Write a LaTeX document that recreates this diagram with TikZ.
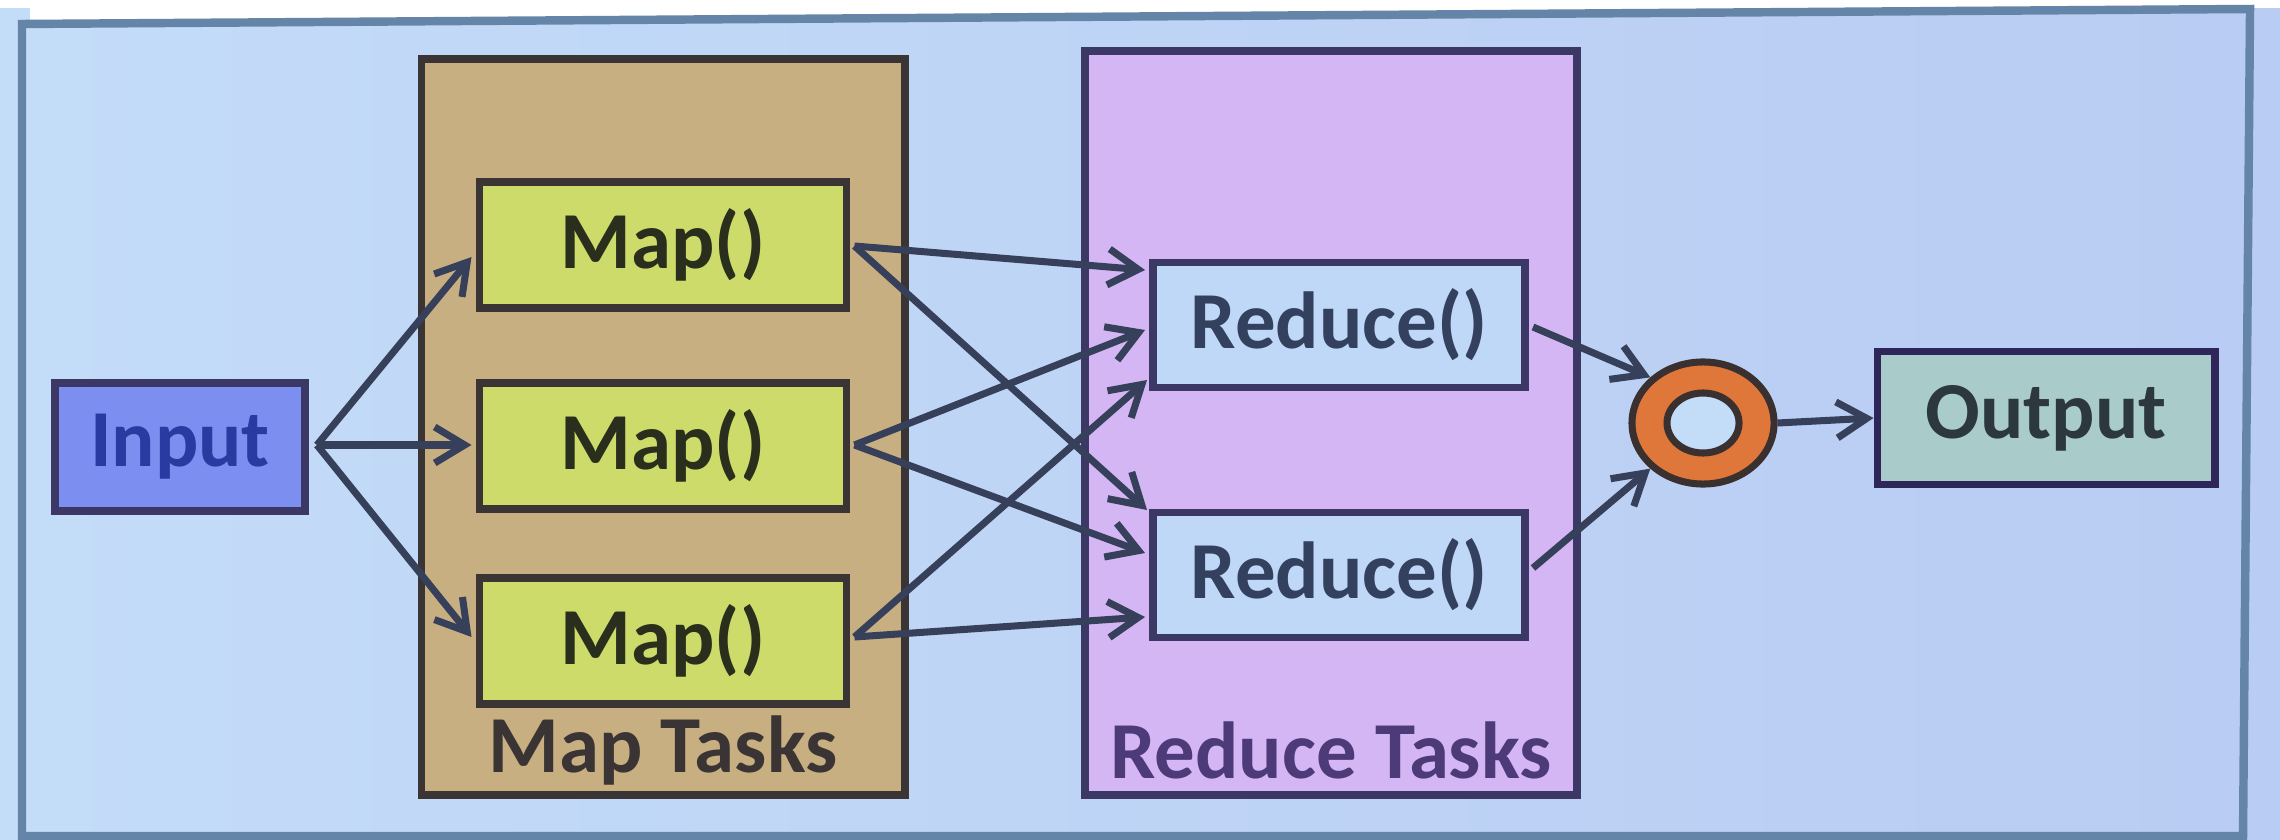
\documentclass[tikz,border=0pt]{standalone}
\usepackage{fontspec}
\setmainfont{Carlito}
\usetikzlibrary{arrows.meta,calc,shapes.geometric}
\definecolor{bgL}{HTML}{C3DCF8}
\definecolor{bgR}{HTML}{B9CCF3}
\definecolor{frameC}{HTML}{6585A8}
\definecolor{arrC}{HTML}{37405A}
\definecolor{inFill}{HTML}{7C8FF1}
\definecolor{inText}{HTML}{2A3AA0}
\definecolor{mapFill}{HTML}{CDDB6A}
\definecolor{mapText}{HTML}{2A2E1C}
\definecolor{mtFill}{HTML}{C8AF82}
\definecolor{mtLine}{HTML}{3A3434}
\definecolor{rtFill}{HTML}{D5B6F4}
\definecolor{rtLine}{HTML}{3C3866}
\definecolor{rtText}{HTML}{4D3A78}
\definecolor{redFill}{HTML}{BFD8F8}
\definecolor{redText}{HTML}{33405E}
\definecolor{ringFill}{HTML}{E0773A}
\definecolor{ringLine}{HTML}{3A3030}
\definecolor{outFill}{HTML}{A9CBCA}
\definecolor{outText}{HTML}{2C383E}
\tikzset{
  lbl/.style={font=\fontsize{23}{26}\selectfont\bfseries},
  box/.style={draw, line width=2.2pt, rectangle, inner sep=0pt, lbl},
  mapbox/.style={box, fill=mapFill, draw=mtLine, text=mapText, minimum width=3.67cm, minimum height=1.26cm},
  redbox/.style={box, fill=redFill, draw=rtLine, text=redText, minimum width=3.72cm, minimum height=1.25cm},
  conn/.style={draw=arrC, line width=2pt, -{Straight Barb[length=3mm,width=3.6mm,line width=2pt]}},
}
\begin{document}
\begin{tikzpicture}[x=0.01cm,y=-0.01cm]
\useasboundingbox (0,0) rectangle (2280,840);
% backgrounds
\fill[white] (0,0) rectangle (2280,840);
\fill[color=bgL] (0,8) rectangle (30,840);
\fill[color=bgR] (2240,8) rectangle (2280,840);
\shade[left color=bgL, right color=bgR] (22,24) -- (2250,9) -- (2243,836) -- (22,836) -- cycle;
\draw[frameC, line width=2.4pt] (22,24) -- (2250,9) -- (2243,836) -- (22,836) -- cycle;
% group boxes
\node[draw=mtLine, fill=mtFill, line width=2.2pt, minimum width=4.83cm, minimum height=7.36cm, inner sep=0pt] (mt) at (663,427) {};
\node[draw=rtLine, fill=rtFill, line width=2.2pt, minimum width=4.92cm, minimum height=7.44cm, inner sep=0pt] (rt) at (1331,423) {};
\node[lbl, text=mtLine] (mtl) at (663,750) {Map Tasks};
\node[lbl, text=rtText] (rtl) at (1331,750) {Reduce Tasks};
% nodes
\node[box, fill=inFill, draw=rtLine, text=inText, minimum width=2.5cm, minimum height=1.28cm] (in) at (180,447) {Input};
\node[mapbox] (m1) at (663,245) {Map()};
\node[mapbox] (m2) at (663,446) {Map()};
\node[mapbox] (m3) at (663,641) {Map()};
\node[redbox] (r1) at (1339,325) {Reduce()};
\node[redbox] (r2) at (1339,575) {Reduce()};
\node[ellipse, draw=ringLine, fill=ringFill, line width=2pt, minimum width=1.42cm, minimum height=1.22cm, inner sep=0pt] (ring) at (1703,423) {};
\node[ellipse, draw=ringLine, fill=bgL, line width=2pt, minimum width=0.72cm, minimum height=0.6cm, inner sep=0pt] (ringin) at (1703,423) {};
\node[box, fill=outFill, draw=ringLine!80!blue, text=outText, minimum width=3.37cm, minimum height=1.33cm] (out) at (2046,418) {Output};
% connectors
\draw[conn] ($(in.east)+(8,-2)$) -- ($(m1.west)+(-4,12)$);
\draw[conn] ($(in.east)+(8,-2)$) -- ($(m2.west)+(-4,-1)$);
\draw[conn] ($(in.east)+(8,-2)$) -- ($(m3.west)+(-4,-4)$);
\draw[conn] ($(m1.east)+(4,1)$) -- ($(r1.west)+(-4,-55)$);
\draw[conn] ($(m1.east)+(4,1)$) -- ($(r2.west)+(-2,-65)$);
\draw[conn] ($(m2.east)+(4,-1)$) -- ($(r1.west)+(-4,5)$);
\draw[conn] ($(m2.east)+(4,-1)$) -- ($(r2.west)+(-4,-22)$);
\draw[conn] ($(m3.east)+(4,-4)$) -- ($(r1.west)+(-2,55)$);
\draw[conn] ($(m3.east)+(4,-4)$) -- ($(r2.west)+(-4,42)$);
\draw[conn] ($(r1.east)+(4,2)$) -- (ring.north west);
\draw[conn] ($(r2.east)+(4,-7)$) -- (ring.south west);
\draw[conn] (ring.east) -- (out.west);
\end{tikzpicture}
\end{document}
